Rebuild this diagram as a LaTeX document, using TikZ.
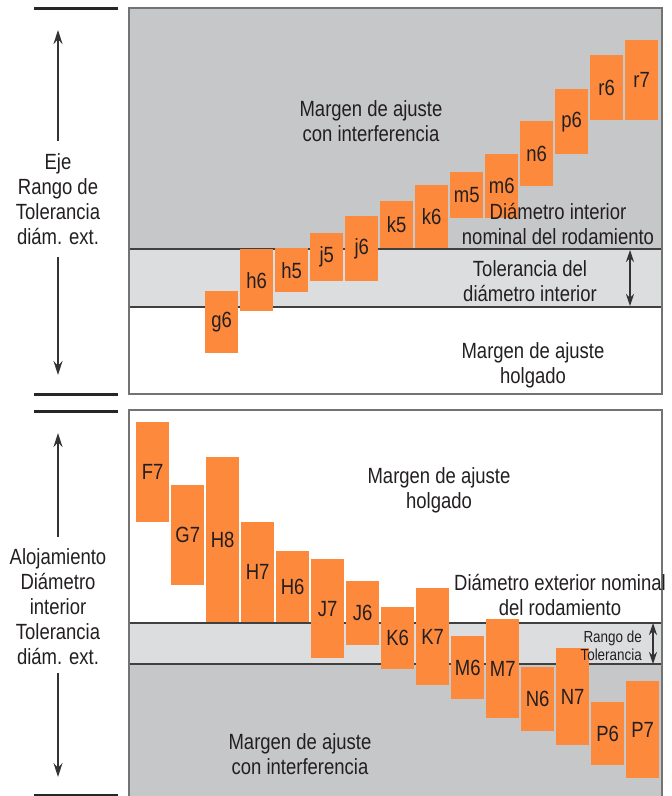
\documentclass[tikz,border=0pt]{standalone}
\usepackage{fontspec}
\setmainfont{Liberation Sans}[FakeStretch=0.84]
\usetikzlibrary{arrows.meta}
\definecolor{tolorange}{RGB}{253,137,61}
\definecolor{fitdark}{RGB}{198,199,201}
\definecolor{fitlight}{RGB}{220,221,223}
\definecolor{inktext}{RGB}{35,31,32}
\tikzset{tol box/.style={fill=tolorange,inner sep=0pt,minimum width=33pt,anchor=north west,text=inktext,font=\fontsize{22}{25}\selectfont},
label node/.style={align=center,inner sep=0pt,text=inktext,font=\fontsize{22}{25}\selectfont},
small node/.style={align=right,inner sep=0pt,text=inktext,font=\fontsize{16}{18}\selectfont},
frame line/.style={draw=black!55,line width=1.5pt},
band line/.style={draw=black!75,line width=1.2pt},
mark line/.style={draw=black!85,line width=3pt},
dim arrow/.style={draw=black!80,line width=1.1pt,-{Stealth[length=14pt,width=9pt]}},
dim both/.style={draw=black!80,line width=1.1pt,{Stealth[length=12pt,width=8pt]}-{Stealth[length=12pt,width=8pt]}} }

\begin{document}
\begin{tikzpicture}[x=1pt,y=-1pt]
\useasboundingbox (0,0) rectangle (672,796);

  % upper panel: eje
  \fill[fitdark] (129,8) rectangle (662,249);
  \fill[fitlight] (129,249) rectangle (662,307);
  \draw[band line] (129,249) -- (662,249);
  \draw[band line] (129,307) -- (662,307);
  \draw[frame line] (129,8) rectangle (662,394);

  % lower panel: alojamiento
  \fill[fitlight] (129,623) rectangle (662,664);
  \fill[fitdark] (129,664) rectangle (662,798);
  \draw[band line] (129,623) -- (662,623);
  \draw[band line] (129,664) -- (662,664);
  \draw[frame line] (129,799) -- (129,410) -- (662,410) -- (662,799);

  % range marks on the left
  \foreach \y in {8,394,411,795}
    \draw[mark line] (34,\y) -- (118,\y);

  % tolerance zones of the shaft
  \foreach \x/\t/\b/\l in {205/291/353/g6, 240/249/311/h6, 275/248/292/h5, 310/233/281/j5,
      345/216/281/j6, 380/201/248/k5, 415/185/248/k6, 450/172/218/m5, 485/154/218/m6,
      520/121/186/n6, 555/89/154/p6, 590/55/120/r6, 625/40/120/r7}
    \node[tol box,minimum height={(\b-\t)*1pt}] (\l) at (\x,\t) {\l};

  % tolerance zones of the housing
  \foreach \x/\t/\b/\l in {136/422/522/F7, 171/485/585/G7, 206/457/622/H8, 241/522/622/H7,
      276/551/622/H6, 311/559/658/J7, 346/581/645/J6, 381/607/669/K6, 416/588/685/K7,
      451/636/699/M6, 486/619/718/M7, 521/667/731/N6, 556/648/745/N7, 591/702/765/P6,
      626/681/778/P7}
    \node[tol box,minimum height={(\b-\t)*1pt}] (\l) at (\x,\t) {\l};

  % texts
  \node[label node] (eje) at (58,199) {Eje\\Rango de\\Tolerancia\\diám. ext.};
  \node[label node] (aloj) at (58,607) {Alojamiento\\Diámetro\\interior\\Tolerancia\\diám. ext.};

  \node[label node] (interf1) at (371,121) {Margen de ajuste\\con interferencia};
  \node[label node] (nomint) at (558,224) {Diámetro interior\\nominal del rodamiento};
  \node[label node] (tolint) at (530,281) {Tolerancia del\\diámetro interior};
  \node[label node] (holg1) at (533,365) {Margen de ajuste\\holgado};

  \node[label node] (holg2) at (439,490) {Margen de ajuste\\holgado};
  \node[label node] (nomext) at (560,595) {Diámetro exterior nominal\\del rodamiento};
  \node[small node,anchor=east] (rango) at (642,646) {Rango de\\Tolerancia};
  \node[label node] (interf2) at (300,754) {Margen de ajuste\\con interferencia};

  % arrows
  \coordinate (eje up) at (58,30);
  \coordinate (eje down) at (58,375);
  \coordinate (aloj up) at (58,433);
  \coordinate (aloj down) at (58,777);
  \coordinate (bore top) at (630,250);
  \coordinate (bore bot) at (630,306);
  \coordinate (od top) at (653,623);
  \coordinate (od bot) at (653,664);

  \draw[dim arrow,shorten <=12pt] (eje) -- (eje up);
  \draw[dim arrow,shorten <=12pt] (eje) -- (eje down);
  \draw[dim arrow,shorten <=12pt] (aloj) -- (aloj up);
  \draw[dim arrow,shorten <=8pt] (aloj) -- (aloj down);
  \draw[dim both] (bore top) -- (bore bot);
  \draw[dim both] (od top) -- (od bot);
\end{tikzpicture}
\end{document}
